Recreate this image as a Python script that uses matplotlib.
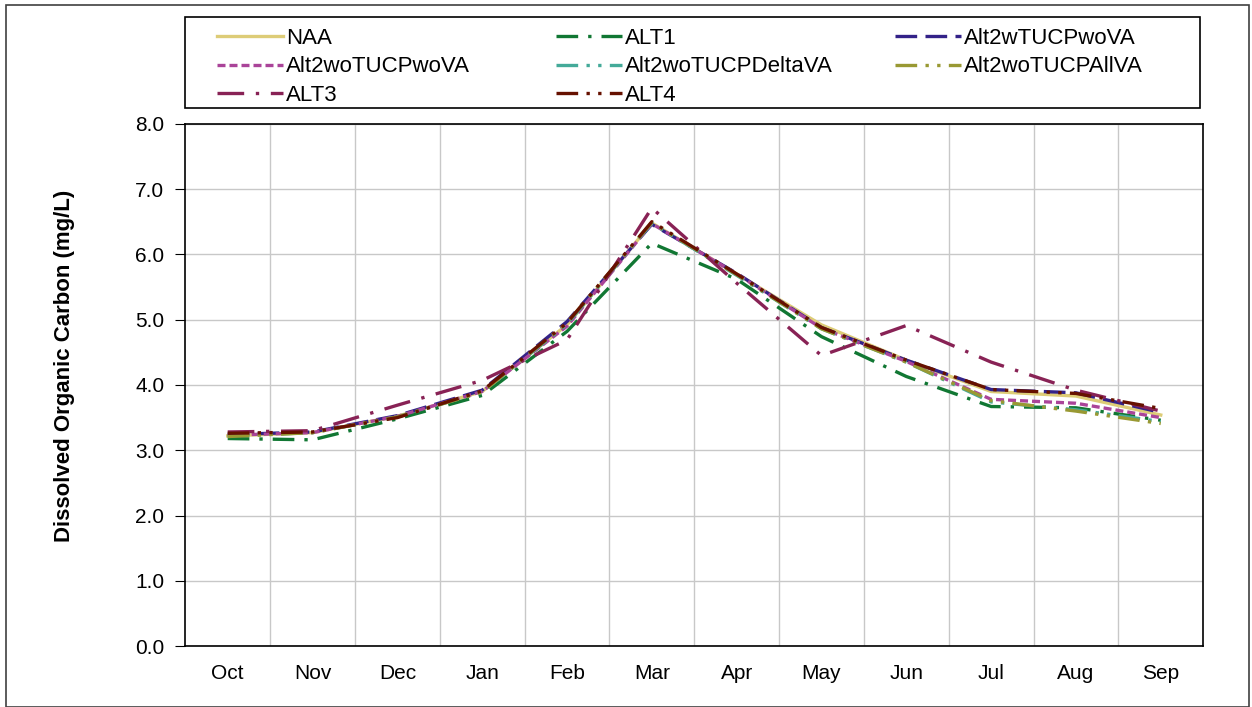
import numpy as np
import matplotlib
matplotlib.use('Agg')
import matplotlib.pyplot as plt
from matplotlib.patches import Rectangle

plt.rcParams['font.family'] = ['Liberation Sans', 'DejaVu Sans']

months = ['Oct', 'Nov', 'Dec', 'Jan', 'Feb', 'Mar', 'Apr', 'May', 'Jun', 'Jul', 'Aug', 'Sep']

naa = [3.22, 3.27, 3.52, 3.90, 4.92, 6.48, 5.70, 4.92, 4.38, 3.90, 3.83, 3.54]
alt1 = [3.18, 3.16, 3.48, 3.84, 4.82, 6.17, 5.62, 4.74, 4.13, 3.67, 3.65, 3.46]
alt2w_wova = [3.24, 3.28, 3.53, 3.92, 4.97, 6.46, 5.71, 4.88, 4.38, 3.93, 3.88, 3.58]
alt2wo_wova = [3.23, 3.27, 3.52, 3.90, 4.90, 6.47, 5.70, 4.87, 4.36, 3.78, 3.72, 3.50]
alt2wo_delta = [3.22, 3.27, 3.51, 3.89, 4.93, 6.48, 5.68, 4.86, 4.35, 3.74, 3.62, 3.44]
alt2wo_all = [3.21, 3.27, 3.51, 3.89, 4.95, 6.49, 5.69, 4.86, 4.35, 3.76, 3.60, 3.41]
alt3 = [3.28, 3.30, 3.69, 4.07, 4.69, 6.71, 5.56, 4.45, 4.91, 4.35, 3.92, 3.60]
alt4 = [3.26, 3.28, 3.50, 3.91, 4.95, 6.50, 5.70, 4.88, 4.38, 3.93, 3.87, 3.64]

series = [
    ('NAA', naa, '#DDCC77', '-'),
    ('ALT1', alt1, '#117733', (0, (6.5, 3, 1, 3))),
    ('Alt2wTUCPwoVA', alt2w_wova, '#332288', (0, (6.5, 2.5))),
    ('Alt2woTUCPwoVA', alt2wo_wova, '#AA4499', (0, (2.4, 1.2))),
    ('Alt2woTUCPDeltaVA', alt2wo_delta, '#44AA99', (0, (6.5, 2.5, 1, 2.5, 1, 2.5))),
    ('Alt2woTUCPAllVA', alt2wo_all, '#999933', (0, (6.5, 2.5, 1, 2.5, 1, 2.5))),
    ('ALT3', alt3, '#882255', (0, (8, 3.5, 1, 3.5))),
    ('ALT4', alt4, '#661100', (0, (6.5, 2.5, 1, 2.5, 1, 2.5))),
]

fig = plt.figure(figsize=(12.52, 7.07), dpi=100)
ax = fig.add_axes([0.148, 0.086, 0.813, 0.739])

x = np.arange(len(months))
handles = []
for name, vals, col, ls in series:
    h, = ax.plot(x, vals, color=col, linestyle=ls, linewidth=2.4, label=name)
    handles.append(h)

ax.set_xlim(-0.5, 11.5)
ax.set_ylim(0, 8)
ax.set_yticks(np.arange(0, 8.1, 1.0))
ax.set_yticklabels([f'{v:.1f}' for v in np.arange(0, 8.1, 1.0)], fontsize=15)
ax.set_xticks(x)
ax.set_xticklabels(months, fontsize=15)
ax.set_xticks(np.arange(0.5, 11.5, 1.0), minor=True)
ax.tick_params(axis='x', which='both', length=0, pad=13)
ax.tick_params(axis='y', which='major', length=7, direction='out', pad=8)
ax.grid(True, axis='y', which='major', color='#C8C8C8', linewidth=1)
ax.grid(True, axis='x', which='minor', color='#C8C8C8', linewidth=1)
ax.set_axisbelow(True)
for s in ax.spines.values():
    s.set_color('black')
    s.set_linewidth(1.2)

ax.set_ylabel('Dissolved Organic Carbon (mg/L)', fontsize=16, fontweight='bold')
ax.yaxis.label.set_verticalalignment('center')
ax.yaxis.set_label_coords(-0.119, 0.536)

# legend laid out row by row in three columns, one legend per column
col_x = [217 / 1252, 556 / 1252, 895 / 1252]
for c in range(3):
    hs = handles[c::3]
    lg = fig.legend(handles=hs, loc='upper left', bbox_to_anchor=(col_x[c], 1 - 28 / 707),
                    fontsize=16, frameon=False, handlelength=2.95, handletextpad=0.15,
                    borderpad=0, borderaxespad=0, labelspacing=0.33)
fig.patches.append(Rectangle((185 / 1252, 1 - 108 / 707), 1015 / 1252, 91 / 707,
                             transform=fig.transFigure, fill=False,
                             edgecolor='black', linewidth=1.2))

fig.patches.append(Rectangle((0.005, 0.0), 0.993, 0.993, transform=fig.transFigure,
                             fill=False, edgecolor='#404040', linewidth=1.2))

fig.savefig('out.png', dpi=100)
